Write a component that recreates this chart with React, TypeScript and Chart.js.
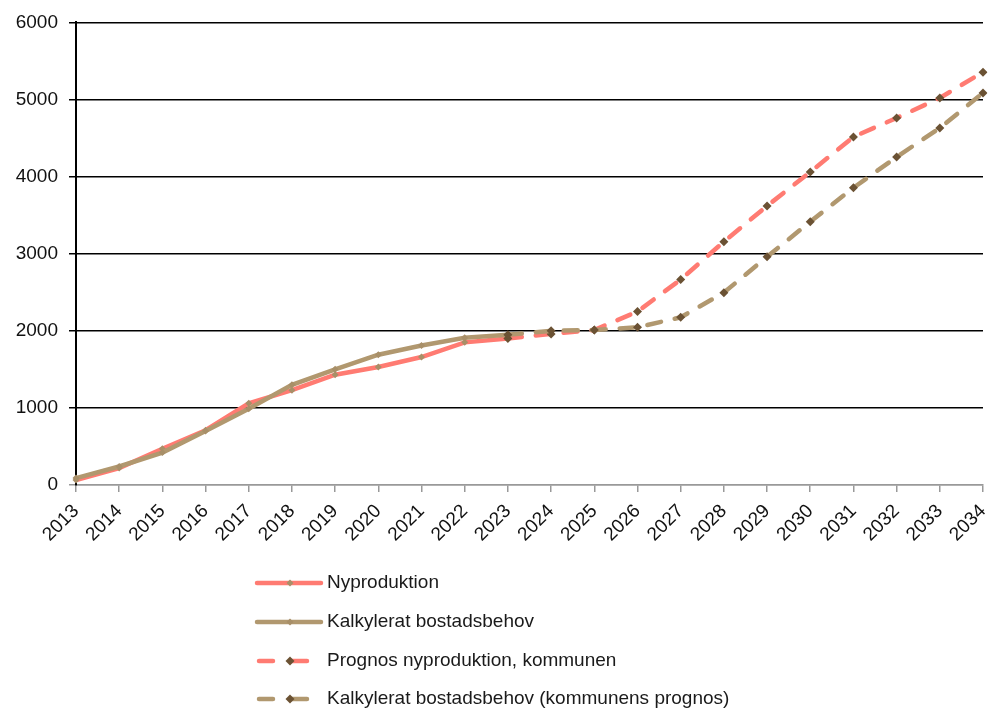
import React, { useEffect, useRef } from "react";
import { Chart, registerables } from "chart.js";

Chart.register(...registerables);

const years = ["2013","2014","2015","2016","2017","2018","2019","2020","2021","2022","2023","2024","2025","2026","2027","2028","2029","2030","2031","2032","2033","2034"];

const nyproduktion = [65, 220, 470, 710, 1060, 1230, 1430, 1530, 1660, 1850, 1900, null, null, null, null, null, null, null, null, null, null, null];
const kalkylerat = [90, 240, 420, 700, 990, 1300, 1500, 1690, 1810, 1910, 1950, null, null, null, null, null, null, null, null, null, null, null];
const prognosNy = [null, null, null, null, null, null, null, null, null, null, 1900, 1960, 2010, 2250, 2665, 3155, 3620, 4060, 4515, 4760, 5020, 5355];
const prognosKalk = [null, null, null, null, null, null, null, null, null, null, 1950, 2000, 2010, 2045, 2175, 2495, 2960, 3415, 3855, 4255, 4630, 5085];

const yTicks = [0, 1000, 2000, 3000, 4000, 5000, 6000];

const legendLabels = [
  "Nyproduktion",
  "Kalkylerat bostadsbehov",
  "Prognos nyproduktion, kommunen",
  "Kalkylerat bostadsbehov (kommunens prognos)",
];

const PINK = "#FF7B72";
const TAN = "#B1986F";
const TAN_MARK = "#A88F68";
const DARK = "#6B5234";
const FONT = "'Liberation Sans', Arial, sans-serif";

function diamond(ctx: CanvasRenderingContext2D, x: number, y: number, r: number, color: string) {
  ctx.save();
  ctx.fillStyle = color;
  ctx.beginPath();
  ctx.moveTo(x, y - r);
  ctx.lineTo(x + r, y);
  ctx.lineTo(x, y + r);
  ctx.lineTo(x - r, y);
  ctx.closePath();
  ctx.fill();
  ctx.restore();
}

const legendPlugin = {
  id: "customLegend",
  afterDraw(chart: any) {
    const ctx: CanvasRenderingContext2D = chart.ctx;
    const x0 = 257;
    const ys = [583, 622, 661, 699];
    const cols = [PINK, TAN, PINK, TAN];
    ctx.save();
    ctx.lineCap = "round";
    ctx.lineWidth = 4.5;
    for (let i = 0; i < 4; i++) {
      const y = ys[i];
      ctx.strokeStyle = cols[i];
      if (i < 2) {
        ctx.beginPath();
        ctx.moveTo(x0, y);
        ctx.lineTo(x0 + 64, y);
        ctx.stroke();
        diamond(ctx, x0 + 33, y, 3.5, TAN_MARK);
      } else {
        ctx.beginPath();
        ctx.moveTo(x0 + 2, y);
        ctx.lineTo(x0 + 16, y);
        ctx.moveTo(x0 + 33, y);
        ctx.lineTo(x0 + 50, y);
        ctx.stroke();
        diamond(ctx, x0 + 33, y, 4.5, DARK);
      }
      ctx.fillStyle = "#1a1a1a";
      ctx.font = `19px ${FONT}`;
      ctx.textBaseline = "middle";
      ctx.textAlign = "left";
      ctx.fillText(legendLabels[i], 327, y);
    }
    ctx.restore();
  },
};

export default function App() {
  const ref = useRef<HTMLCanvasElement>(null);
  useEffect(() => {
    document.body.style.margin = "0";
    const chart = new Chart(ref.current!, {
      type: "line",
      data: {
        labels: years,
        datasets: [
          {
            label: legendLabels[0],
            data: nyproduktion,
            borderColor: PINK,
            backgroundColor: TAN_MARK,
            borderWidth: 4.5,
            pointStyle: "rectRot",
            pointRadius: 3.5,
            pointBorderWidth: 0,
            pointBackgroundColor: TAN_MARK,
            order: 4,
          },
          {
            label: legendLabels[1],
            data: kalkylerat,
            borderColor: TAN,
            backgroundColor: TAN_MARK,
            borderWidth: 4.5,
            pointStyle: "rectRot",
            pointRadius: 3.5,
            pointBorderWidth: 0,
            pointBackgroundColor: TAN_MARK,
            order: 3,
          },
          {
            label: legendLabels[2],
            data: prognosNy,
            borderColor: PINK,
            backgroundColor: DARK,
            borderWidth: 4.5,
            borderDash: [14, 14],
            borderCapStyle: "round",
            pointStyle: "rectRot",
            pointRadius: 4.5,
            pointBorderWidth: 0,
            pointBackgroundColor: DARK,
            order: 2,
          },
          {
            label: legendLabels[3],
            data: prognosKalk,
            borderColor: TAN,
            backgroundColor: DARK,
            borderWidth: 4.5,
            borderDash: [14, 14],
            borderCapStyle: "round",
            pointStyle: "rectRot",
            pointRadius: 4.5,
            pointBorderWidth: 0,
            pointBackgroundColor: DARK,
            order: 1,
          },
        ],
      },
      options: {
        animation: false,
        responsive: true,
        maintainAspectRatio: false,
        spanGaps: false,
        layout: { padding: { top: 21, right: 5, left: 0, bottom: 0 } },
        plugins: {
          legend: { display: false },
          tooltip: { enabled: false },
        },
        scales: {
          x: {
            offset: false,
            grid: {
              drawOnChartArea: false,
              drawTicks: true,
              tickLength: 7,
              color: "#999999",
              lineWidth: 1.5,
            },
            border: { color: "#999999", width: 1.5 },
            ticks: {
              minRotation: 45,
              maxRotation: 45,
              autoSkip: false,
              padding: 8,
              color: "#111111",
              font: { family: FONT, size: 19 },
            },
            afterFit: (s: any) => {
              s.height = 228;
              s.paddingLeft = 0;
              s.paddingRight = 0;
            },
          },
          y: {
            min: 0,
            max: 6000,
            afterBuildTicks: (s: any) => {
              s.ticks = yTicks.map((v) => ({ value: v }));
            },
            grid: {
              color: (c: any) => (c.tick && c.tick.value === 0 ? "#999999" : "#000000"),
              lineWidth: 1.5,
              drawTicks: true,
              tickLength: 7,
            },
            border: { color: "#000000", width: 2 },
            ticks: {
              padding: 11,
              color: "#111111",
              font: { family: FONT, size: 19 },
              callback: (v: any) => String(v),
            },
            afterFit: (s: any) => {
              s.width = 76;
            },
          },
        },
      },
      plugins: [legendPlugin],
    });
    return () => chart.destroy();
  }, []);
  return (
    <div style={{ width: 988, height: 713, position: "relative" }}>
      <canvas ref={ref} />
    </div>
  );
}
